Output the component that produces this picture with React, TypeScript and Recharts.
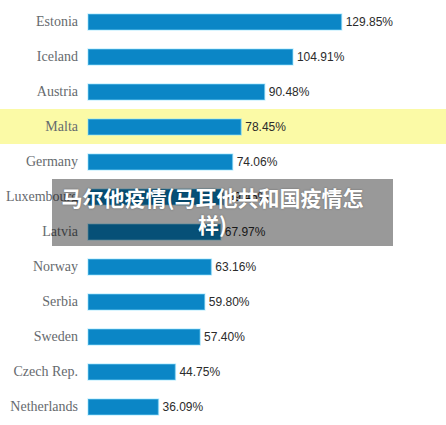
import { BarChart, Bar, XAxis, YAxis, LabelList, ReferenceArea } from 'recharts';

// country share, percent
const countries = [
  'Estonia',
  'Iceland',
  'Austria',
  'Malta',
  'Germany',
  'Luxembourg',
  'Latvia',
  'Norway',
  'Serbia',
  'Sweden',
  'Czech Rep.',
  'Netherlands',
];
const values = [129.85, 104.91, 90.48, 78.45, 74.06, 69.45, 67.97, 63.16, 59.8, 57.4, 44.75, 36.09];
const highlighted = 'Malta';
const overlayTitle = '马尔他疫情(马耳他共和国疫情怎样)';

const data = countries.map((name, i) => ({ name, value: values[i] }));

const W = 446;
const H = 425;

// yellow row highlight drawn across the whole picture width
function FullRow(props: { y?: number; height?: number }) {
  return <rect x={0} y={props.y} width={W} height={props.height} fill="#fbfaa6" />;
}

export default function App() {
  return (
    <div style={{ position: 'fixed', left: 0, top: 0, width: W, height: H, background: '#fff' }}>
      <BarChart
        width={W}
        height={H}
        data={data}
        layout="vertical"
        margin={{ top: 4, right: 65, left: 0, bottom: 1 }}
      >
        <ReferenceArea y1={highlighted} y2={highlighted} shape={<FullRow />} />
        <XAxis type="number" domain={[0, 150]} hide />
        <YAxis
          type="category"
          dataKey="name"
          width={88}
          axisLine={false}
          tickLine={false}
          tickMargin={4}
          interval={0}
          tick={{ fill: '#666a6e', fontSize: 14, fontFamily: '"Liberation Serif", serif' }}
        />
        <Bar
          dataKey="value"
          fill="#0b86c6"
          stroke="rgba(140,225,255,0.45)"
          strokeWidth={1.5}
          barSize={16}
          isAnimationActive={false}
        >
          <LabelList
            dataKey="value"
            position="right"
            offset={4}
            formatter={(v: number) => `${v.toFixed(2)}%`}
            style={{ fill: '#2b2b2b', fontSize: 12, fontFamily: '"Liberation Sans", Arial, sans-serif' }}
          />
        </Bar>
      </BarChart>
      <div
        style={{
          position: 'absolute',
          left: 52,
          top: 179,
          width: 341,
          height: 67,
          boxSizing: 'border-box',
          padding: '5px 20px 0 0',
          background: 'rgba(0,0,0,0.4)',
          color: '#fff',
          fontFamily: '"Noto Sans CJK SC", sans-serif',
          fontWeight: 700,
          fontSize: 21,
          lineHeight: '27px',
          textAlign: 'center',
          textShadow: '0 0 2px rgba(0,0,0,0.35)',
        }}
      >
        {overlayTitle}
      </div>
    </div>
  );
}
